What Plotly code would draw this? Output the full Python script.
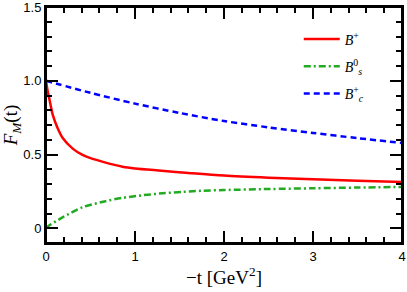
import plotly.graph_objects as go

# data
x_bp = [0, 0.01, 0.025, 0.04, 0.075, 0.13, 0.19, 0.3, 0.41, 0.5, 0.64, 0.86, 1.0, 1.3, 1.6, 2.0, 2.5, 3.0, 3.5, 4.0]
y_bp = [1.0, 0.96, 0.91, 0.87, 0.77, 0.68, 0.61, 0.54, 0.497, 0.475, 0.45, 0.417, 0.405, 0.39, 0.375, 0.357, 0.343, 0.332, 0.322, 0.314]

x_bs = [0, 0.02, 0.19, 0.41, 0.64, 0.86, 1.09, 1.31, 1.54, 1.76, 2.0, 2.5, 3.0, 3.5, 4.0]
y_bs = [0.0, 0.012, 0.075, 0.142, 0.180, 0.206, 0.224, 0.237, 0.247, 0.254, 0.259, 0.266, 0.271, 0.276, 0.280]

x_bc = [0, 0.5, 1.0, 1.5, 2.0, 2.5, 3.0, 3.5, 4.0]
y_bc = [1.0, 0.918, 0.845, 0.782, 0.727, 0.684, 0.646, 0.611, 0.578]

names = ["<i>B</i><sup>+</sup>", "<i>B</i><sup>0</sup><sub><i>s</i></sub>", "<i>B</i><sup>+</sup><sub><i>c</i></sub>"]

x_ticks = [0, 1, 2, 3, 4]
x_ticktext = ["0", "1", "2", "3", "4"]
y_ticks = [0, 0.5, 1.0, 1.5]
y_ticktext = ["0", "0.5", "1.0", "1.5"]

fig = go.Figure()
fig.add_trace(go.Scatter(x=x_bp, y=y_bp, mode="lines", name=names[0], legendgroup="a",
                         line=dict(color="#ff0000", width=2.5, shape="spline", smoothing=0.8)))
fig.add_trace(go.Scatter(x=x_bs, y=y_bs, mode="lines", name=names[1], legendgroup="b",
                         line=dict(color="#22aa22", width=2.5, dash="7px,3px,2px,3px", shape="spline", smoothing=0.8)))
fig.add_trace(go.Scatter(x=x_bc, y=y_bc, mode="lines", name=names[2], legendgroup="c",
                         line=dict(color="#0000ff", width=2.5, dash="6px,4px", shape="spline", smoothing=0.8)))

axis_common = dict(
    showline=True, linecolor="black", linewidth=2, mirror="ticks",
    ticks="inside", ticklen=12, tickwidth=2, tickcolor="black",
    showgrid=False, zeroline=False, ticklabeloverflow="allow",
    tickfont=dict(family="Liberation Sans, Arial", size=13, color="black"),
)

fig.update_xaxes(range=[0, 4], tickvals=x_ticks, ticktext=x_ticktext,
                 minor=dict(dtick=0.2, ticks="inside", ticklen=6, tickwidth=1.5, tickcolor="black"),
                 title=dict(text="\u2212t [GeV<sup>2</sup>]", font=dict(family="Liberation Serif, Times New Roman", size=19, color="black"), standoff=4),
                 **axis_common)
fig.update_yaxes(range=[-0.1, 1.5], tickvals=y_ticks, ticktext=y_ticktext,
                 minor=dict(dtick=0.1, tick0=0, ticks="inside", ticklen=6, tickwidth=1.5, tickcolor="black"),
                 title=dict(text="<i>F</i><sub><i>M</i></sub>(t)", font=dict(family="Liberation Serif, Times New Roman", size=19, color="black"), standoff=2),
                 **axis_common)

# plot frame (style only)
fig.add_shape(type="rect", xref="paper", yref="paper", x0=0, y0=0, x1=1, y1=1,
              line=dict(color="black", width=2), layer="above")

fig.update_layout(
    width=407, height=292,
    margin=dict(l=46, r=5, t=7, b=49, autoexpand=False),
    plot_bgcolor="white", paper_bgcolor="white",
    showlegend=True,
    legend=dict(x=0.71, y=0.93, xanchor="left", yanchor="top",
                bgcolor="rgba(0,0,0,0)", font=dict(family="Liberation Serif, Times New Roman", size=14, color="black"),
                tracegroupgap=6, itemwidth=36),
)

fig.write_html("out.html", config={"displayModeBar": False},
               post_script="document.body.style.margin='0';document.body.style.overflow='hidden';")
